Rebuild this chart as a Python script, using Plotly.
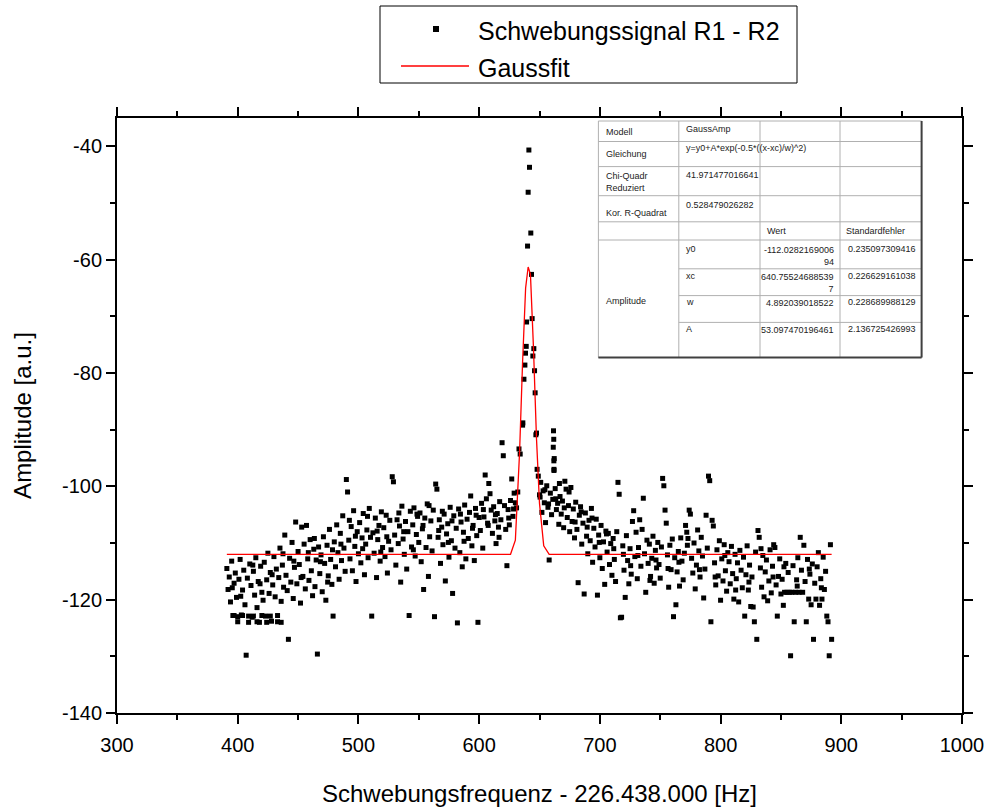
import plotly.graph_objects as go

# ---------------- data ----------------
# main measurement series, one value per Hz, segment A starts at 391 Hz
seg_a_start = 391
amp_a = [
    -114.5, -118.2, -116.0, -120.4, -113.2, -122.8, -117.1, -115.3, -119.6, -123.0,
    -116.4, -112.9, -122.7, -118.3, -114.8, -120.9, -129.8, -116.2, -122.9, -113.7,
    -117.5, -123.1, -115.0, -119.2, -112.6, -121.4, -116.8, -124.0, -114.1, -118.7,
    -120.1, -113.4, -122.9, -116.5, -111.8, -118.9, -115.2, -123.8, -117.4, -112.4,
    -119.5, -114.6, -122.8, -116.1, -110.9, -120.3, -113.9, -117.8, -108.6, -115.7,
    -118.4, -127.0, -112.7, -116.9, -109.9, -119.8, -114.3, -106.3, -117.2, -111.5,
    -113.8, -120.6, -107.2, -115.9, -110.2, -118.1, -106.9, -112.8, -116.6, -109.4,
    -114.9, -119.3, -111.1, -117.7, -113.0, -129.6, -110.7, -115.4, -112.1, -118.6,
    -108.9, -113.6, -120.1, -110.4, -115.8, -107.6, -112.9, -117.3, -122.9, -109.8,
    -114.2, -106.8, -111.7, -116.4, -108.3, -113.1, -105.2, -110.9, -115.0, -98.8,
    -101.0, -109.5, -112.8, -107.1, -114.9, -104.3, -110.6, -116.8, -108.0, -111.9,
    -106.4, -113.5, -109.1, -104.8, -115.6, -110.2, -107.7, -112.6, -103.9, -109.0,
    -122.9, -108.2, -111.8, -105.6, -116.1, -109.4, -106.9, -113.2, -104.5, -110.8,
    -107.3, -112.4, -105.1, -115.3, -109.7, -106.0, -111.2, -98.3, -99.2, -108.6,
    -113.9, -105.9, -110.1, -107.0, -116.9, -103.5, -109.3, -112.0, -106.2, -114.6,
    -108.0, -122.8, -104.4, -110.7, -106.8, -103.8, -112.3, -108.5, -105.3, -109.9,
    -104.7, -113.3, -107.5, -118.2, -105.6, -110.8, -103.1, -115.9, -108.9, -106.1,
    -111.4, -104.2, -123.0, -99.6, -100.5, -109.0, -105.9, -113.6, -107.2, -110.3,
    -104.9, -116.7, -108.4, -106.6, -112.5, -103.7, -109.6, -118.9, -105.2, -110.9,
    -107.4, -124.1, -104.0, -111.7, -106.3, -114.2, -108.1, -103.3, -112.8, -105.8,
    -109.2, -104.6, -101.7, -110.5, -106.9, -113.1, -103.9, -108.7, -124.0, -105.5,
    -107.8, -103.0, -110.9, -105.4, -98.0, -102.2, -106.5, -99.5, -101.3, -104.2,
    -108.3, -103.6, -106.1, -110.1, -104.8, -107.2, -102.7, -105.9, -92.3, -94.6,
    -103.4, -107.6, -114.0, -104.1, -106.8, -102.5, -98.7, -105.3, -101.2, -102.9,
    -103.8, -101.0, -93.4, -94.3,
]

# segment B starts at 648 Hz
seg_b_start = 648
amp_b = [
    -97.0, -98.2, -101.5, -99.3, -104.6, -100.8, -102.9, -106.4, -99.9, -103.7,
    -113.0, -101.2, -105.0, -102.3, -97.2, -100.4, -104.1, -103.0, -106.7, -101.8,
    -104.9, -102.6, -107.3, -99.1, -100.5, -105.5, -103.4, -108.0, -100.2, -106.2,
    -104.0, -109.1, -102.8, -107.6, -117.0, -105.1, -103.6, -110.2, -106.5, -119.0,
    -104.7, -108.8, -111.9, -106.0, -109.6, -103.9, -113.4, -107.4, -110.7, -105.8,
    -119.2, -108.6, -112.6, -106.9, -114.5, -109.8, -117.3, -107.9, -111.6, -108.3,
    -113.8, -110.1, -115.7, -109.2, -112.9, -116.8, -108.0, -99.3, -101.4, -123.2,
    -123.1, -110.5, -114.8, -119.6, -108.7, -113.1, -117.2, -111.0, -115.5, -106.2,
    -104.3, -112.4, -108.1, -116.3, -110.8, -105.9, -114.1, -107.6, -102.1, -111.9,
    -118.7, -109.5, -113.6, -110.2, -115.9, -112.7, -108.8, -117.1, -111.3, -114.4,
    -109.9, -113.8, -116.2, -110.7, -98.6, -99.9, -104.2, -106.5, -112.1, -117.8,
    -110.4, -114.7, -109.3, -123.0, -112.6, -120.9, -115.1, -111.5, -117.6, -109.1,
    -113.2, -116.5, -111.8, -106.9, -108.1, -109.2, -104.2, -104.9, -112.7, -115.3,
    -110.0, -118.1, -113.9, -107.7, -111.4, -116.0, -109.0, -112.3, -119.7, -114.6,
    -105.1, -110.9, -98.2, -99.0, -123.9, -106.0, -107.0, -113.5, -117.4, -111.2,
    -115.8, -109.6, -120.1, -112.8, -116.7, -110.3, -114.9, -118.5, -111.7, -113.3,
    -117.2, -110.6, -115.4, -119.9, -112.0, -116.3, -113.5, -120.4, -111.3, -114.8,
    -117.9, -112.5, -122.9, -115.6, -110.5, -118.3, -113.9, -121.2, -116.0, -121.3,
    -123.9, -111.6, -127.0, -107.8, -109.0, -114.4, -117.8, -112.2, -119.5, -115.1,
    -113.0, -120.2, -116.7, -111.2, -118.8, -114.1, -110.3, -110.8, -117.4, -122.9,
    -115.9, -112.8, -119.0, -116.4, -121.0, -118.7, -113.6, -118.7, -115.2, -118.7,
    -129.9, -118.7, -114.0, -123.9, -118.7, -116.5, -112.6, -118.7, -109.0, -114.8,
    -118.7, -110.4, -116.8, -123.9, -112.9, -119.9, -115.5, -120.9, -113.7, -127.0,
    -117.1, -119.9, -114.2, -111.7, -121.0, -116.3, -119.9, -112.5, -118.2, -115.0,
    -122.9, -123.9, -129.9, -110.3, -127.0,
]

# peak points (explicit frequencies)
peak_x = [636.0, 636.2, 637.1, 637.9, 638.4, 639.0, 639.3, 640.1, 640.6, 641.2,
          641.7, 642.8, 643.4, 643.9, 644.5, 645.3, 645.9, 646.4, 647.0, 647.5,
          661.6, 661.8, 661.4, 662.2, 661.9, 662.0]
peak_y = [-89.2, -88.8, -81.1, -78.6, -76.5, -75.3, -71.0, -57.6, -48.1, -40.65,
          -43.7, -55.3, -62.6, -70.4, -77.0, -75.7, -79.6, -83.5, -90.9, -90.6,
          -90.2, -91.7, -93.1, -95.1, -95.5, -97.0]

# additional overlapping points
extra_x = [397, 400, 404, 409, 413, 416, 420, 424, 427, 433, 436,
           395.5, 402.5, 412.5, 418.5, 428.5, 437.5, 446.5, 452.5, 458.5, 463.5, 468.5, 474.5, 478.5,
           485.5, 492.5, 497.5, 503.5, 507.5, 515.5, 518.5, 523.5, 533.5, 537.5, 545.5, 548.5,
           553.5, 558.5, 566.5, 569.5, 574.5, 577.5, 584.5, 587.5, 594.5, 597.5, 603.5, 607.5,
           613.5, 616.5, 624.5, 628.5,
           650.5, 654.5, 657.5, 663.5, 666.5, 670.5, 674.5, 679.5, 684.5, 689.5, 693.5, 699.5,
           705.5, 711.5, 719.5,
           725.5, 731.5, 741.5, 746.5, 756.5, 765.5, 772.5, 782.5, 795.5, 803.5, 812.5, 823.5,
           833.5, 843.5, 852.5, 863.5, 873.5, 883.5]
extra_y = [-122.8, -123.9, -122.8, -124.0, -122.9, -123.9, -122.8, -124.0, -122.9, -123.9, -124.0,
           -117.9, -119.4, -113.9, -117.2, -115.6, -111.9, -113.2, -116.1, -111.7, -109.2, -113.3, -116.9, -111.2,
           -110.2, -106.0, -108.8, -111.0, -105.3, -107.9, -111.6, -108.9, -104.7, -108.0, -111.2, -104.9,
           -106.9, -103.4, -107.8, -104.4, -109.9, -106.1, -104.9, -109.7, -107.4, -105.1, -104.1, -106.9,
           -105.0, -109.0, -105.6, -104.0,
           -101.9, -100.6, -103.1, -102.2, -99.5, -103.8, -101.0, -106.3, -104.5, -107.2, -105.6, -109.9,
           -108.4, -111.0, -112.0,
           -114.0, -112.2, -116.6, -113.0, -114.5, -113.4, -110.4, -114.7, -116.0, -112.2, -118.3, -116.9,
           -111.0, -116.0, -114.2, -117.6, -114.6, -117.9]

# Gauss fit curve as drawn
fit_x = [391, 626, 630, 633.5, 636, 638.5, 640.6, 642.5, 645, 647.5, 650, 653.5, 658, 892]
fit_y = [-112.0, -112.0, -109.5, -94.0, -78.0, -65.0, -61.3, -62.6, -75.5, -91.5, -103.0, -110.5, -112.0, -112.0]

# axis ticks
x_ticks = [300, 400, 500, 600, 700, 800, 900, 1000]
x_ticklabels = ["300", "400", "500", "600", "700", "800", "900", "1000"]
y_ticks = [-40, -60, -80, -100, -120, -140]
y_ticklabels = ["-40", "-60", "-80", "-100", "-120", "-140"]

# fit-result table contents
table_rows = [
    ("Modell", "GaussAmp"),
    ("Gleichung", "y=y0+A*exp(-0.5*((x-xc)/w)^2)"),
    ("Chi-Quadr<br>Reduziert", "41.971477016641"),
    ("Kor. R-Quadrat", "0.528479026282"),
]
param_names = ["y0", "xc", "w", "A"]
param_values = ["-112.0282169006<br>94", "640.75524688539<br>7", "4.892039018522", "53.097470196461"]
param_errors = ["0.235097309416", "0.226629161038", "0.228689988129", "2.136725426993"]

series_name = "Schwebungssignal R1 - R2"
fit_name = "Gaussfit"
x_title = "Schwebungsfrequenz - 226.438.000 [Hz]"
y_title = "Amplitude [a.u.]"

# ---------------- figure ----------------
FONT = "Liberation Sans, Arial, sans-serif"
L, R, T, B = 117, 25, 118, 99
W, H = 987, 812
PW, PH = W - L - R, H - T - B


def px(x):
    return (x - L) / PW


def py(y):
    return (H - B - y) / PH


freq_a = [seg_a_start + i for i in range(len(amp_a))]
freq_b = [seg_b_start + i for i in range(len(amp_b))]
all_x = freq_a + freq_b + peak_x + extra_x
all_y = amp_a + amp_b + peak_y + extra_y

fig = go.Figure()
fig.add_trace(go.Scatter(x=all_x, y=all_y, mode="markers", name=series_name,
                         marker=dict(symbol="square", size=5, color="black", line=dict(width=0))))
fig.add_trace(go.Scatter(x=fit_x, y=fit_y, mode="lines", name=fit_name,
                         line=dict(color="#ff0000", width=1.3)))

axis_common = dict(showgrid=False, zeroline=False, showline=True, linecolor="black", linewidth=2,
                   mirror="allticks", ticks="outside", ticklen=9, tickwidth=2, tickcolor="black",
                   automargin=False,
                   tickfont=dict(family=FONT, size=20, color="black"))

fig.update_xaxes(range=[300, 1000], tickmode="array", tickvals=x_ticks, ticktext=x_ticklabels,
                 ticklabelstandoff=4,
                 minor=dict(dtick=50, tick0=300, ticks="outside", ticklen=5, tickwidth=2, tickcolor="black",
                            showgrid=False),
                 title=dict(text=x_title, font=dict(family=FONT, size=24, color="black"), standoff=30),
                 **axis_common)
fig.update_yaxes(range=[-140, -35], tickmode="array", tickvals=y_ticks, ticktext=y_ticklabels,
                 minor=dict(dtick=10, tick0=-140, ticks="outside", ticklen=5, tickwidth=2, tickcolor="black",
                            showgrid=False),
                 title=dict(text=y_title, font=dict(family=FONT, size=24, color="black"), standoff=24),
                 **axis_common)

shapes = []
annotations = []

# ----- legend (drawn manually) -----
shapes.append(dict(type="rect", xref="paper", yref="paper", x0=px(380), x1=px(797), y0=py(83), y1=py(6),
                   line=dict(color="black", width=1), fillcolor="white"))
shapes.append(dict(type="rect", xref="paper", yref="paper", x0=px(433), x1=px(439), y0=py(32), y1=py(26),
                   line=dict(width=0), fillcolor="black"))
shapes.append(dict(type="line", xref="paper", yref="paper", x0=px(401), x1=px(469), y0=py(66), y1=py(66),
                   line=dict(color="#ff0000", width=1.3)))
annotations.append(dict(xref="paper", yref="paper", x=px(476), y=py(31), text=series_name, showarrow=False,
                        xanchor="left", yanchor="middle", font=dict(family=FONT, size=25, color="black")))
annotations.append(dict(xref="paper", yref="paper", x=px(476), y=py(68), text=fit_name, showarrow=False,
                        xanchor="left", yanchor="middle", font=dict(family=FONT, size=25, color="black")))

# ----- fit table -----
cols = [598.4, 678.8, 760.0, 840.0, 921.6]
rows = [121.0, 141.5, 166.6, 195.7, 221.8, 240.0, 268.8, 295.6, 322.4, 357.5]
grid = "#b0b0b0"
shapes.append(dict(type="rect", xref="paper", yref="paper", x0=px(cols[0]), x1=px(cols[-1]),
                   y0=py(rows[-1]), y1=py(rows[0]), line=dict(color=grid, width=1), fillcolor="white"))
for c in cols[1:-1]:
    shapes.append(dict(type="line", xref="paper", yref="paper", x0=px(c), x1=px(c), y0=py(rows[-1]), y1=py(rows[0]),
                       line=dict(color=grid, width=1)))
for i, r in enumerate(rows[1:-1], start=1):
    x0 = cols[1] if i >= 6 else cols[0]
    shapes.append(dict(type="line", xref="paper", yref="paper", x0=px(x0), x1=px(cols[-1]), y0=py(r), y1=py(r),
                       line=dict(color=grid, width=1)))
# darker right and bottom edge
shapes.append(dict(type="line", xref="paper", yref="paper", x0=px(cols[-1]), x1=px(cols[-1]),
                   y0=py(rows[-1]), y1=py(rows[0]), line=dict(color="#404040", width=2)))
shapes.append(dict(type="line", xref="paper", yref="paper", x0=px(cols[0]), x1=px(cols[-1]),
                   y0=py(rows[-1]), y1=py(rows[-1]), line=dict(color="#404040", width=2)))

TF = dict(family=FONT, size=9, color="#222222")


def txt(x, y, s, anchor="left", yanchor="middle"):
    annotations.append(dict(xref="paper", yref="paper", x=px(x), y=py(y), text=s, showarrow=False,
                            xanchor=anchor, yanchor=yanchor, font=TF, align=anchor))


label_y = [132, 154, 182.5, 212.5]
value_y = [129, 148, 174.5, 205]
for (lab, val), ly, vy in zip(table_rows, label_y, value_y):
    txt(604.4, ly, lab)
    if lab.startswith("Kor"):
        txt(756, vy, val, anchor="right")
    else:
        txt(683.5, vy, val)
txt(765, 231, "Wert")
txt(843.6, 231, "Standardfehler")
txt(604.4, 301.3, "Amplitude")
param_y = [249.3, 275.5, 302, 329]
for name, v, e, yy in zip(param_names, param_values, param_errors, param_y):
    txt(683.8, yy, name)
    annotations.append(dict(xref="paper", yref="paper", x=px(836), y=py(yy - 6), text=v, showarrow=False,
                            xanchor="right", yanchor="top", font=TF, align="right"))
    txt(917.5, yy, e, anchor="right")

fig.update_layout(width=W, height=H, margin=dict(l=L, r=R, t=T, b=B, autoexpand=False),
                  plot_bgcolor="white", paper_bgcolor="white", showlegend=False,
                  font=dict(family=FONT, color="black"),
                  shapes=shapes, annotations=annotations)

fig.write_html("out.html", config={"displayModeBar": False},
               post_script="document.body.style.margin='0';document.body.style.padding='0';")
